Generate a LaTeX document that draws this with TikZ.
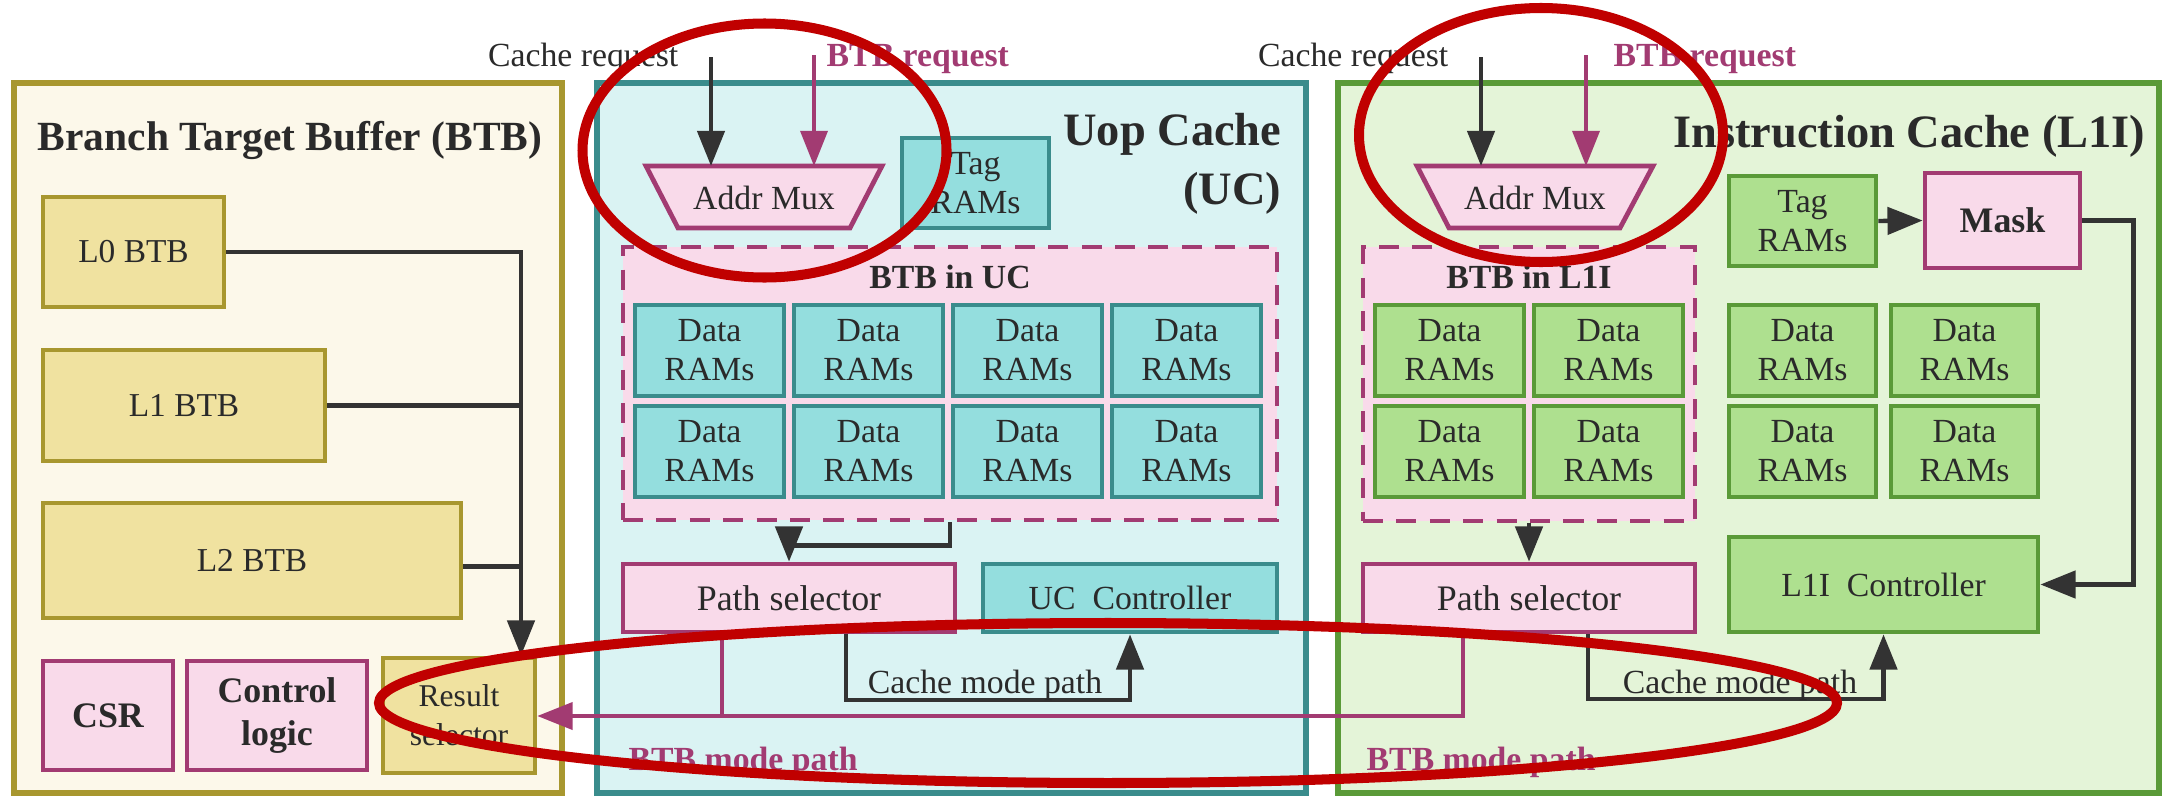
\documentclass[tikz,border=0pt]{standalone}
\usepackage{fontspec}
\setmainfont{Liberation Serif}
\usetikzlibrary{arrows.meta,calc}

\definecolor{btbborder}{HTML}{A8972F}
\definecolor{btbfill}{HTML}{FCF8EA}
\definecolor{btbbox}{HTML}{F0E2A0}
\definecolor{magc}{HTML}{A23B72}
\definecolor{pinkc}{HTML}{F9DAEA}
\definecolor{ucborder}{HTML}{3A8C8C}
\definecolor{ucfill}{HTML}{DAF3F3}
\definecolor{ucbox}{HTML}{94DEDE}
\definecolor{liborder}{HTML}{5A9A38}
\definecolor{lifill}{HTML}{E4F4D8}
\definecolor{libox}{HTML}{AEE08F}
\definecolor{darkc}{HTML}{333333}
\definecolor{txtc}{HTML}{2A2A2A}
\definecolor{redmark}{HTML}{C00000}

\newcommand{\mkbox}[7]{\node[#2, minimum width={(#5-#3)*0.01cm}, minimum height={(#6-#4)*0.01cm}] (#1) at ({(#3+#5)/2},{(#4+#6)/2}) {#7};}

\tikzset{
  every node/.style={text=txtc, inner sep=0pt, align=center, font=\fontsize{9.6}{11.1}\selectfont},
  btbouter/.style={draw=btbborder, fill=btbfill, line width=1.6pt},
  ucouter/.style={draw=ucborder, fill=ucfill, line width=1.6pt},
  liouter/.style={draw=liborder, fill=lifill, line width=1.6pt},
  btbsub/.style={draw=btbborder, fill=btbbox, line width=1.35pt, font=\fontsize{9.5}{11.1}\selectfont},
  rsbox/.style={draw=btbborder, fill=btbbox, line width=1.35pt, font=\fontsize{9}{11.1}\selectfont},
  ucsub/.style={draw=ucborder, fill=ucbox, line width=1.35pt},
  lisub/.style={draw=liborder, fill=libox, line width=1.35pt},
  pinkbox/.style={draw=magc, fill=pinkc, line width=1.35pt, font=\fontsize{10.2}{12}\selectfont},
  pinkbold/.style={draw=magc, fill=pinkc, line width=1.35pt, font=\fontsize{10.2}{12.5}\selectfont\bfseries},
  dashbox/.style={draw=magc, fill=pinkc, line width=1.35pt, dash pattern=on 5.7pt off 3.8pt},
  muxshape/.style={draw=magc, fill=pinkc, line width=1.35pt},
  titleA/.style={font=\fontsize{11.8}{14}\selectfont\bfseries},
  titleB/.style={font=\fontsize{13.2}{16.8}\selectfont\bfseries},
  boldlbl/.style={font=\fontsize{9.6}{11.1}\selectfont\bfseries},
  boldmag/.style={text=magc, font=\fontsize{9.6}{11.1}\selectfont\bfseries},
  darkline/.style={draw=darkc, line width=1.25pt},
  darkarr/.style={draw=darkc, line width=1.25pt, -{Triangle[length=10pt,width=7.7pt]}},
  magline/.style={draw=magc, line width=1pt},
  magarr/.style={draw=magc, line width=1pt, -{Triangle[length=10pt,width=7.7pt]}},
  ring/.style={draw=redmark, line width=2.85pt},
}

\begin{document}
\begin{tikzpicture}[x=0.01cm,y=-0.01cm]
\useasboundingbox[fill=white] (0,0) rectangle (2164,797);

% ---------- outer frames ----------
\mkbox{BTB}{btbouter}{14}{83}{562}{793}{}
\mkbox{UC}{ucouter}{597}{83}{1306}{793}{}
\mkbox{LI}{liouter}{1338}{83}{2159}{793}{}

% ---------- titles ----------
\node[titleA, anchor=base] (tBTB) at (290,150) {Branch Target Buffer (BTB)};
\node[titleB, anchor=base east] (tUC1) at (1282,145) {Uop Cache};
\node[titleB, anchor=base east] (tUC2) at (1282,204) {(UC)};
\node[titleB, anchor=base east] (tLI) at (2146,147) {Instruction Cache (L1I)};

% ---------- BTB ----------
\mkbox{L0}{btbsub}{43}{197}{224}{307}{L0 BTB}
\mkbox{L1}{btbsub}{43}{350}{325}{461}{L1 BTB}
\mkbox{L2}{btbsub}{43}{503}{461}{618}{L2 BTB}
\mkbox{CSR}{pinkbold}{43}{661}{173}{770}{CSR}
\mkbox{CL}{pinkbold}{187}{661}{367}{770}{Control\\logic}
\mkbox{RS}{rsbox}{383}{658}{535}{773}{Result\\selector}

% ---------- Uop cache ----------
\draw[muxshape] (646,166) -- (882,166) -- (850,228) -- (678,228) -- cycle;
\node (muxU) at (764,198) {Addr Mux};
\coordinate (muxUtop) at (764,166);
\mkbox{TagU}{ucsub}{902}{138}{1049}{228}{Tag\\RAMs}
\mkbox{DU}{dashbox}{623}{247}{1277}{520}{}
\node[boldlbl, anchor=base] (DUt) at (950,288) {BTB in UC};
\foreach \i/\xa/\xb in {1/635/784,2/794/943,3/953/1102,4/1112/1261}{
  \mkbox{DUa\i}{ucsub}{\xa}{305}{\xb}{396}{Data\\RAMs}
  \mkbox{DUb\i}{ucsub}{\xa}{406}{\xb}{497}{Data\\RAMs}
}
\mkbox{PSU}{pinkbox}{623}{564}{955}{632}{Path selector}
\mkbox{UCC}{ucsub}{983}{564}{1277}{632}{UC\ \ Controller}

% ---------- Instruction cache ----------
\draw[muxshape] (1417,166) -- (1653,166) -- (1620,228) -- (1449,228) -- cycle;
\node (muxL) at (1535,198) {Addr Mux};
\coordinate (muxLtop) at (1535,166);
\mkbox{TagL}{lisub}{1729}{176}{1876}{266}{Tag\\RAMs}
\mkbox{Mask}{pinkbold}{1925}{173}{2080}{268}{Mask}
\mkbox{DL}{dashbox}{1363}{247}{1695}{521}{}
\node[boldlbl, anchor=base] (DLt) at (1529,288) {BTB in L1I};
\foreach \i/\xa/\xb in {1/1375/1524,2/1534/1683,3/1729/1876,4/1891/2038}{
  \mkbox{DLa\i}{lisub}{\xa}{305}{\xb}{396}{Data\\RAMs}
  \mkbox{DLb\i}{lisub}{\xa}{406}{\xb}{497}{Data\\RAMs}
}
\mkbox{PSL}{pinkbox}{1363}{564}{1695}{632}{Path selector}
\mkbox{LIC}{lisub}{1729}{537}{2038}{632}{L1I\ \ Controller}

% ---------- requests ----------
\coordinate (crU) at (711,57);
\coordinate (brU) at (814,55);
\node[anchor=base east] (crUt) at (679,67) {Cache request};
\node[boldmag, anchor=base west] (brUt) at (826,67) {BTB request};
\draw[darkarr] (crU) -- (crU |- muxUtop);
\draw[magarr] (brU) -- (brU |- muxUtop);

\coordinate (crL) at (1481,57);
\coordinate (brL) at (1586,55);
\node[anchor=base east] (crLt) at (1449,67) {Cache request};
\node[boldmag, anchor=base west] (brLt) at (1613,67) {BTB request};
\draw[darkarr] (crL) -- (crL |- muxLtop);
\draw[magarr] (brL) -- (brL |- muxLtop);

% ---------- BTB connectors ----------
\coordinate (bus) at (521,252);
\draw[darkarr] (L0.east) -- (bus) -- (bus |- RS.north);
\draw[darkline] (L1.east) -- (L1.east -| bus);
\draw[darkline] ($(L2.east)+(0,6)$) -- ($(L2.east -| bus)+(0,6)$);

% ---------- UC connectors ----------
\draw[darkarr] (DU.south) -- ++(0,23) -| (PSU.north);
\coordinate (cmU) at (846,700);
\draw[darkarr] (PSU.south -| cmU) -- (cmU) -| (UCC.south);
\node[anchor=base] (cmUt) at (985,693) {Cache mode path};
\coordinate (bmU) at (722,716);
\draw[magline] (PSU.south -| bmU) -- (bmU);

% ---------- L1I connectors ----------
\draw[darkarr] (DL.south) -- (PSL.north);
\draw[darkarr] (TagL.east) -- (Mask.west);
\draw[darkarr] (Mask.east) -- ++(51,0) |- (LIC.east);
\coordinate (cmL) at (1588,699);
\draw[darkarr] (PSL.south -| cmL) -- (cmL) -| (LIC.south);
\node[anchor=base] (cmLt) at (1740,693) {Cache mode path};
\coordinate (bmL) at (1463,716);
\draw[magarr] (PSL.south -| bmL) -- (bmL) -- (bmL -| RS.east);

\node[boldmag, anchor=base west] (bmUt) at (628,770) {BTB mode path};
\node[boldmag, anchor=base west] (bmLt) at (1366,770) {BTB mode path};

% ---------- red annotation rings ----------
\draw[ring] (764.5,150.5) ellipse [x radius=182, y radius=127];
\draw[ring] (1541,135) ellipse [x radius=182, y radius=127];
\draw[ring] (1108,703) ellipse [x radius=729, y radius=80];
\end{tikzpicture}
\end{document}
